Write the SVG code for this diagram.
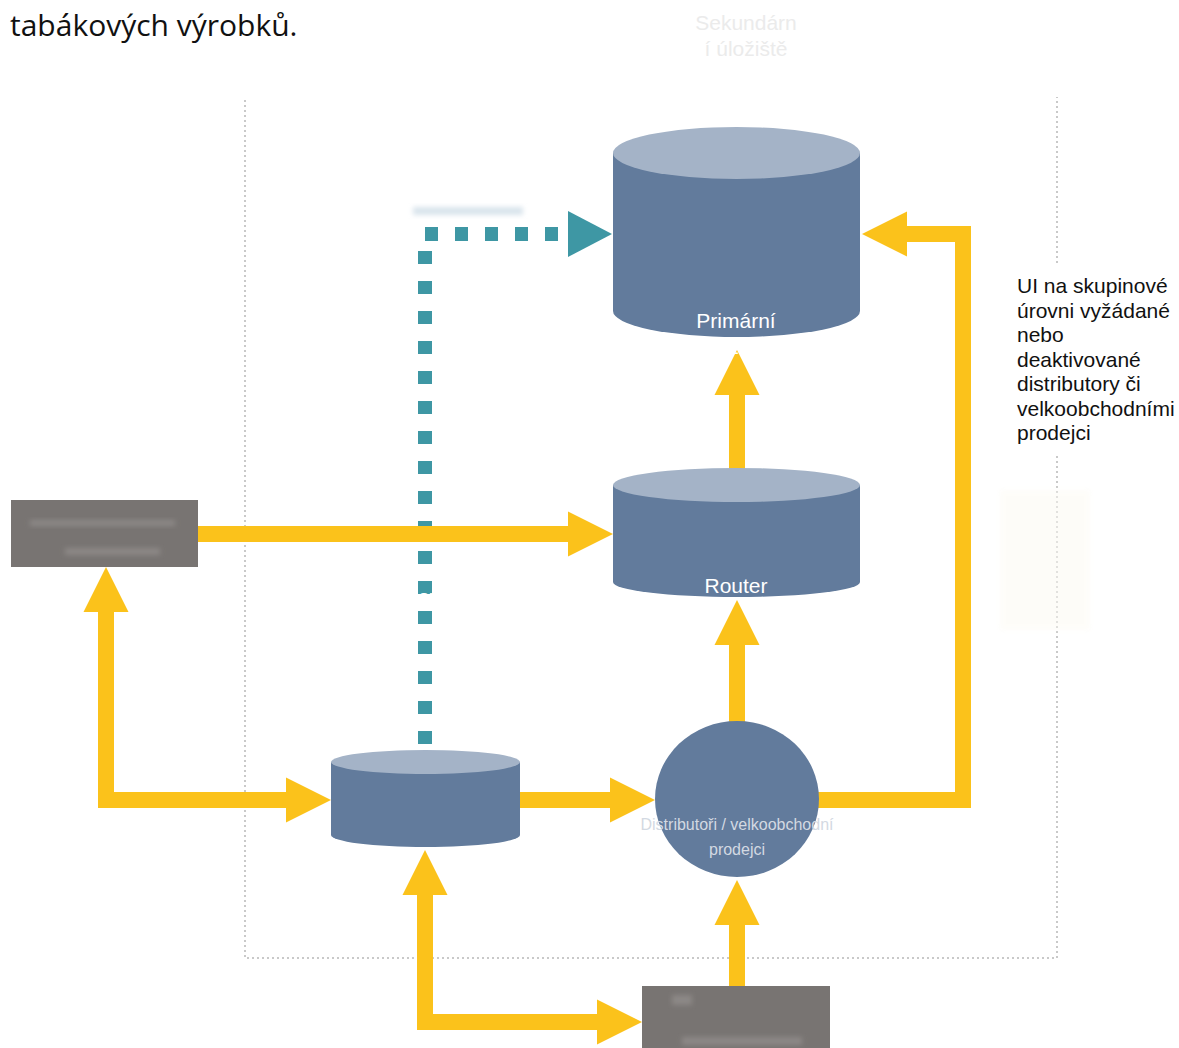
<svg xmlns="http://www.w3.org/2000/svg" width="1179" height="1048" viewBox="0 0 1179 1048">
  <style>
    .frame { fill: none; stroke: #c9c9c9; stroke-width: 2; stroke-dasharray: 2 3; }
    .flow { fill: none; stroke: #fbc21b; stroke-width: 16; }
    .flow-head { fill: #fbc21b; }
    .sync { fill: none; stroke: #3e97a4; stroke-width: 14; stroke-dasharray: 13 17; }
    .sync-head { fill: #3e97a4; }
    .body { fill: #627b9c; }
    .lid { fill: #a4b3c7; }
    .box { fill: #787472; }
    .smudge { fill: #8c8886; filter: url(#soft); }
    .label { font-family: "Liberation Sans", Arial, sans-serif; font-size: 21px; }
    .title { font-family: "Open Sans", "Noto Sans", sans-serif; font-size: 30px; fill: #111; }
  </style>
  <defs>
    <filter id="soft" x="-20%" y="-50%" width="140%" height="200%">
      <feGaussianBlur stdDeviation="2.5"/>
    </filter>
    <!-- arrowhead pointing right, tip at origin -->
    <polygon id="head" points="-45,-22.5 0,0 -45,22.5"/>
  </defs>

  <rect width="1179" height="1048" fill="#ffffff"/>

  <!-- heading fragment and faint caption -->
  <text class="title" x="10" y="36">tabákových výrobků.</text>
  <text class="label" x="746" y="30" text-anchor="middle" fill="#ebebeb">Sekundárn</text>
  <text class="label" x="746" y="56" text-anchor="middle" fill="#ebebeb">í úložiště</text>

  <!-- dotted boundary -->
  <path class="frame" d="M245 100 V958 H1057 V97"/>

  <g id="connectors">
    <!-- dotted sync line -->
    <rect x="413" y="207" width="110" height="8" fill="#d9e4ec" filter="url(#soft)"/>
    <path class="sync" d="M558 234 H425 V752"/>
    <polygon class="sync-head" points="568,211 612,234 568,257"/>

    <!-- yellow flows -->
    <path class="flow" d="M198 534 H570"/>
    <use href="#head" class="flow-head" transform="translate(613 534)"/>

    <path class="flow" d="M737 470 V392"/>
    <use href="#head" class="flow-head" transform="translate(737 350) rotate(-90)"/>

    <path class="flow" d="M737 724 V640"/>
    <use href="#head" class="flow-head" transform="translate(737 600) rotate(-90)"/>

    <path class="flow" d="M737 987 V922"/>
    <use href="#head" class="flow-head" transform="translate(737 880) rotate(-90)"/>

    <path class="flow" d="M520 800 H612"/>
    <use href="#head" class="flow-head" transform="translate(655 800)"/>

    <path class="flow" d="M817 800 H963 V234 H903"/>
    <use href="#head" class="flow-head" transform="translate(862 234) rotate(180)"/>

    <path class="flow" d="M106 610 V800 H290"/>
    <use href="#head" class="flow-head" transform="translate(106 567) rotate(-90)"/>
    <use href="#head" class="flow-head" transform="translate(331 800)"/>

    <path class="flow" d="M425 893 V1022 H600"/>
    <use href="#head" class="flow-head" transform="translate(425 850) rotate(-90)"/>
    <use href="#head" class="flow-head" transform="translate(642 1022)"/>
  </g>

  <g id="primary-store">
    <path class="body" d="M613 153 V311 A123.5 26 0 0 0 860 311 V153 Z"/>
    <ellipse class="lid" cx="736.5" cy="153" rx="123.5" ry="26"/>
    <text class="label" x="736" y="328" text-anchor="middle" fill="#ffffff">Primární</text>
    <text class="label" x="736" y="354" text-anchor="middle" fill="#ffffff">úložiště</text>
  </g>

  <g id="router">
    <path class="body" d="M613 485 V582 A123.5 15 0 0 0 860 582 V485 Z"/>
    <ellipse class="lid" cx="736.5" cy="485" rx="123.5" ry="17"/>
    <text class="label" x="736" y="593" text-anchor="middle" fill="#ffffff">Router</text>
  </g>

  <g id="local-store">
    <path class="body" d="M331 762 V835 A94.5 12 0 0 0 520 835 V762 Z"/>
    <ellipse class="lid" cx="425.5" cy="762" rx="94.5" ry="12"/>
  </g>

  <g id="distributors">
    <ellipse class="body" cx="737" cy="799" rx="82" ry="78"/>
    <text x="737" y="830" text-anchor="middle" fill="#d3d9e2" font-family="Liberation Sans, Arial, sans-serif" font-size="16">Distributoři / velkoobchodní</text>
    <text x="737" y="855" text-anchor="middle" fill="#d3d9e2" font-family="Liberation Sans, Arial, sans-serif" font-size="16">prodejci</text>
  </g>

  <g id="source-left">
    <rect class="box" x="11" y="500" width="187" height="67"/>
    <rect class="smudge" x="30" y="520" width="145" height="6"/>
    <rect class="smudge" x="65" y="548" width="95" height="7"/>
  </g>

  <g id="source-bottom">
    <rect class="box" x="642" y="986" width="188" height="62"/>
    <rect class="smudge" x="672" y="995" width="20" height="10"/>
    <rect class="smudge" x="682" y="1037" width="120" height="8"/>
  </g>

  <text class="label" x="418" y="604" fill="#ffffff">ev</text>

  <g id="note">
    <rect x="1005" y="265" width="174" height="190" fill="#ffffff"/>
    <rect x="1000" y="490" width="90" height="140" fill="#fcfaf3" opacity="0.5" filter="url(#soft)"/>
    <text class="label" fill="#111111">
      <tspan x="1017" y="293">UI na skupinové</tspan>
      <tspan x="1017" y="317.5">úrovni vyžádané</tspan>
      <tspan x="1017" y="342">nebo</tspan>
      <tspan x="1017" y="366.5">deaktivované</tspan>
      <tspan x="1017" y="391">distributory či</tspan>
      <tspan x="1017" y="415.5">velkoobchodními</tspan>
      <tspan x="1017" y="440">prodejci</tspan>
    </text>
  </g>
</svg>
